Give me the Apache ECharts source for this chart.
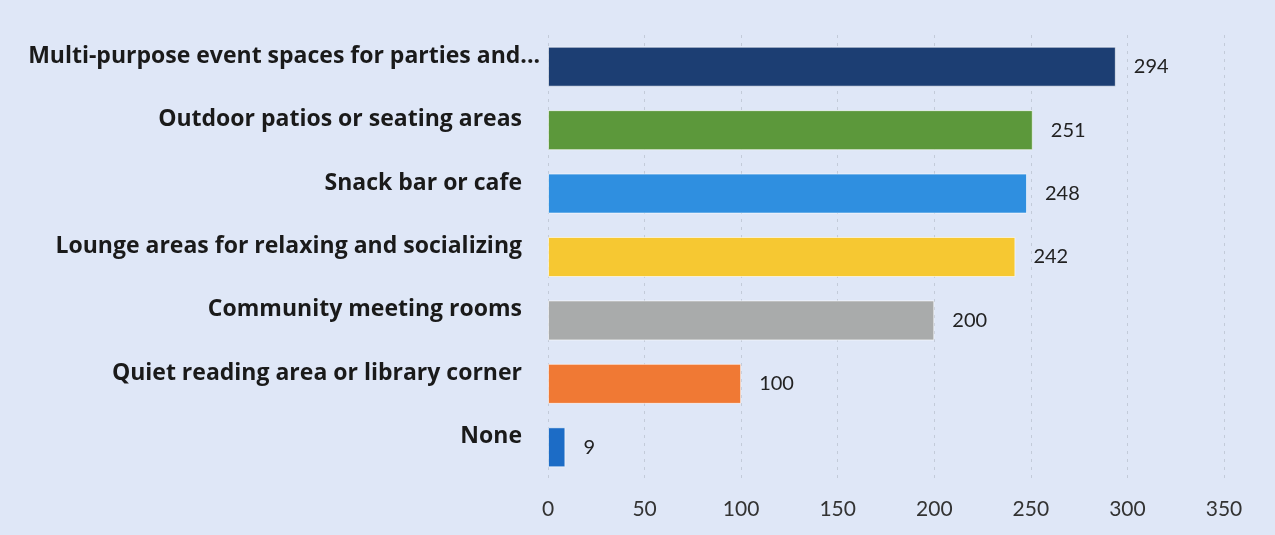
<!DOCTYPE html>
<html><head><meta charset="utf-8">
<script src="https://cdn.jsdelivr.net/npm/echarts@6/dist/echarts.min.js"></script>
<style>html,body{margin:0;padding:0;background:#dfe7f7;}#c{width:1275px;height:535px;}</style>
</head><body><div id="c"></div>
<script>
const categories = [
  "Multi-purpose event spaces for parties and...",
  "Outdoor patios or seating areas",
  "Snack bar or cafe",
  "Lounge areas for relaxing and socializing",
  "Community meeting rooms",
  "Quiet reading area or library corner",
  "None"
];
const values = [294, 251, 248, 242, 200, 100, 9];
const barColors = ["#1c3e73", "#5c983b", "#2f8fe0", "#f6c832", "#a9abab", "#f07934", "#1c6cc6"];
const xTicks = [0, 50, 100, 150, 200, 250, 300, 350];

const labelStyle = {color: '#1a1a1a', fontSize: 23, fontWeight: 'bold', fontFamily: 'Open Sans',
  verticalAlign: 'bottom', lineHeight: 21};

const chart = echarts.init(document.getElementById('c'));
chart.setOption({
  backgroundColor: '#dfe7f7',
  animation: false,
  grid: {left: 548, right: 51, top: 35, bottom: 56, containLabel: false},
  xAxis: {
    type: 'value', min: xTicks[0], max: xTicks[xTicks.length - 1], interval: 50,
    axisLine: {show: false}, axisTick: {show: false},
    splitLine: {show: true, lineStyle: {color: '#c3cbd9', type: [3, 5], width: 1}},
    axisLabel: {color: '#333', fontSize: 21, fontFamily: 'Lato', margin: 20}
  },
  yAxis: {
    type: 'category', inverse: true,
    data: categories.map((c, i) => i === 0
      ? {value: c, textStyle: Object.assign({}, labelStyle, {padding: [0, 0, 0, 0]})}
      : {value: c}),
    axisLine: {show: false}, axisTick: {show: false},
    axisLabel: Object.assign({}, labelStyle, {margin: 8, padding: [0, 18, 0, 0]})
  },
  series: [{
    type: 'bar', barWidth: 40,
    data: values.map((v, i) => ({value: v, itemStyle: {color: barColors[i]}})),
    itemStyle: {borderColor: 'rgba(255,255,255,0.6)', borderWidth: 1},
    label: {show: true, position: 'right', distance: 18, color: '#222', fontSize: 20, fontFamily: 'Lato'}
  }]
});
</script></body></html>
